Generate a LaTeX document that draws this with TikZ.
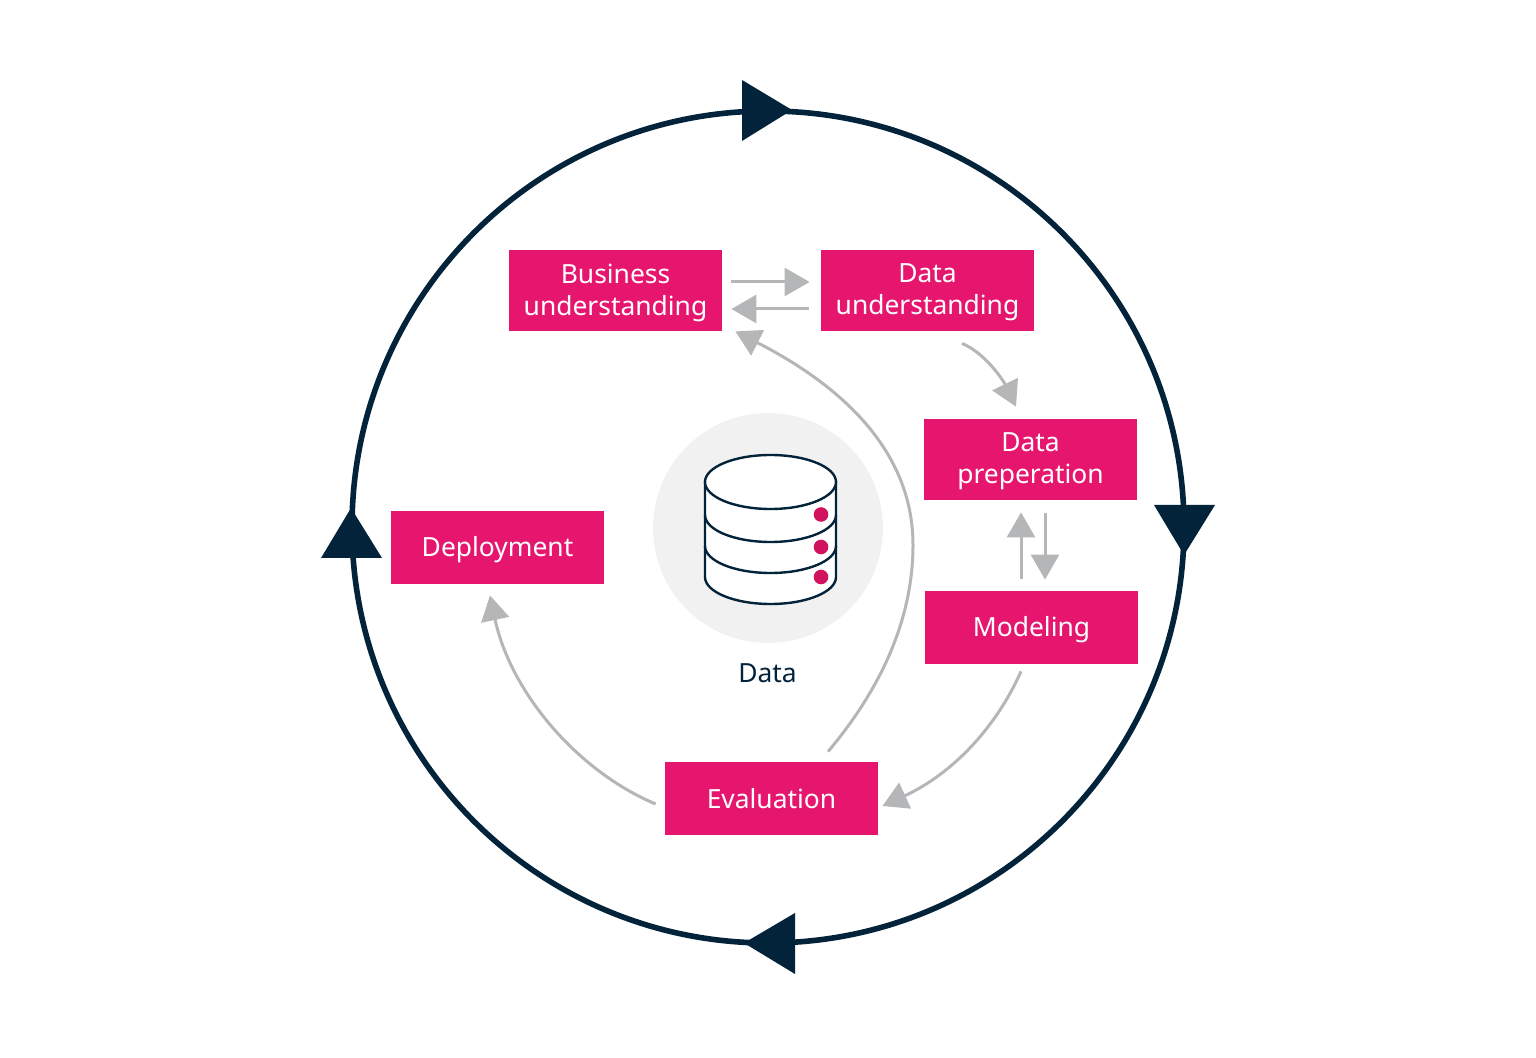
\documentclass[tikz,border=0pt]{standalone}
\usepackage{fontspec}
\setmainfont{Noto Sans}
\usetikzlibrary{arrows.meta}
\definecolor{navy}{HTML}{03233A}
\definecolor{magenta}{HTML}{E6166F}
\definecolor{dotred}{HTML}{D1125F}
\definecolor{flowgrey}{HTML}{B5B6B7}
\definecolor{discgrey}{HTML}{F1F1F1}
\tikzset{
    phase/.style={fill=magenta, text=white, minimum width=106.5pt, inner sep=0pt, align=center, text depth=1.2pt, font=\fontsize{13.2}{16}\selectfont},
    tall/.style={minimum height=40.5pt},
    short/.style={minimum height=36.5pt},
    flow/.style={draw=flowgrey, line width=1.5pt, -{Triangle[length=12.5pt,width=14pt,fill=flowgrey]}},
    disk/.style={draw=navy, line width=1.2pt}
}
\begin{document}
\begin{tikzpicture}[x=0.5pt, y=-0.5pt]
    \useasboundingbox (0,0) rectangle (1536,1058);
    % Origin Point
    \coordinate (O) at (768,527);
    % Outer Ring
    \draw[navy, line width=2.8pt] (O) circle [radius=416];
    % Triangles on the Ring
    \fill[navy] (742,80) -- (742,141) -- (792,110) -- cycle;
    \fill[navy] (1154,505) -- (1215,505) -- (1184,555) -- cycle;
    \fill[navy] (795,913) -- (795,974) -- (744,943) -- cycle;
    \fill[navy] (321,558) -- (382,558) -- (351,508) -- cycle;

    % Data Disc
    \fill[discgrey] (768,528) circle [radius=115];
    \filldraw[disk, fill=white] (705,482) -- (705,577) arc [start angle=180, end angle=0, x radius=65.5, y radius=27] -- (836,482) -- cycle;
    \foreach \y in {515,546}
    {
        \draw[disk] (705,\y) arc [start angle=180, end angle=0, x radius=65.5, y radius=27];
    }
    \filldraw[disk, fill=white] (770.5,482) ellipse [x radius=65.5, y radius=27];
    % Red Dots
    \foreach \y in {514.5,547,577}
    {
        \fill[dotred] (821,\y) circle [radius=7.3];
    }
    \node[text=navy, font=\fontsize{13.2}{16}\selectfont] (data) at (767.5,673) {Data};

    % Phases
    \node[phase, tall] (business) at (615.5,290.5) {Business\\understanding};
    \node[phase, tall] (understanding) at (927.5,290.5) {Data\\understanding};
    \node[phase, tall] (preparation) at (1030.5,459.5) {Data\\preperation};
    \node[phase, short] (modeling) at (1031.5,627.5) {Modeling};
    \node[phase, short, text depth=0pt] (evaluation) at (771.5,798.5) {Evaluation};
    \node[phase, short] (deployment) at (497.5,547.5) {Deployment};

    % Straight Arrows
    \draw[flow] ([shift={(9,-8.5)}]business.east) -- ([shift={(-11,-8.5)}]understanding.west);
    \draw[flow] ([shift={(-12,18.5)}]understanding.west) -- ([shift={(9,18.5)}]business.east);
    \draw[flow] ([shift={(-9.5,79)}]preparation.south) -- ([shift={(-9.5,12)}]preparation.south);
    \draw[flow] ([shift={(14.5,13)}]preparation.south) -- ([shift={(13.5,-11)}]modeling.north);
    % Curved Arrows
    \draw[flow] ([shift={(34.5,12)}]understanding.south) .. controls (985,353) and (1003,380) .. ([shift={(-14.5,-12)}]preparation.north);
    \draw[flow] ([shift={(-10.5,7)}]modeling.south) .. controls (995,730) and (950,775) .. ([shift={(4,7.5)}]evaluation.east);
    \draw[flow] ([shift={(-9,5.5)}]evaluation.west) .. controls (575,770) and (510,690) .. ([shift={(-7.5,11)}]deployment.south);
    \draw[flow] ([shift={(56.5,-10)}]evaluation.north) .. controls (880,690) and (913,620) .. (913,545) .. controls (913,450) and (840,385) .. ([shift={(13,0)}]business.south east);
\end{tikzpicture}
\end{document}
